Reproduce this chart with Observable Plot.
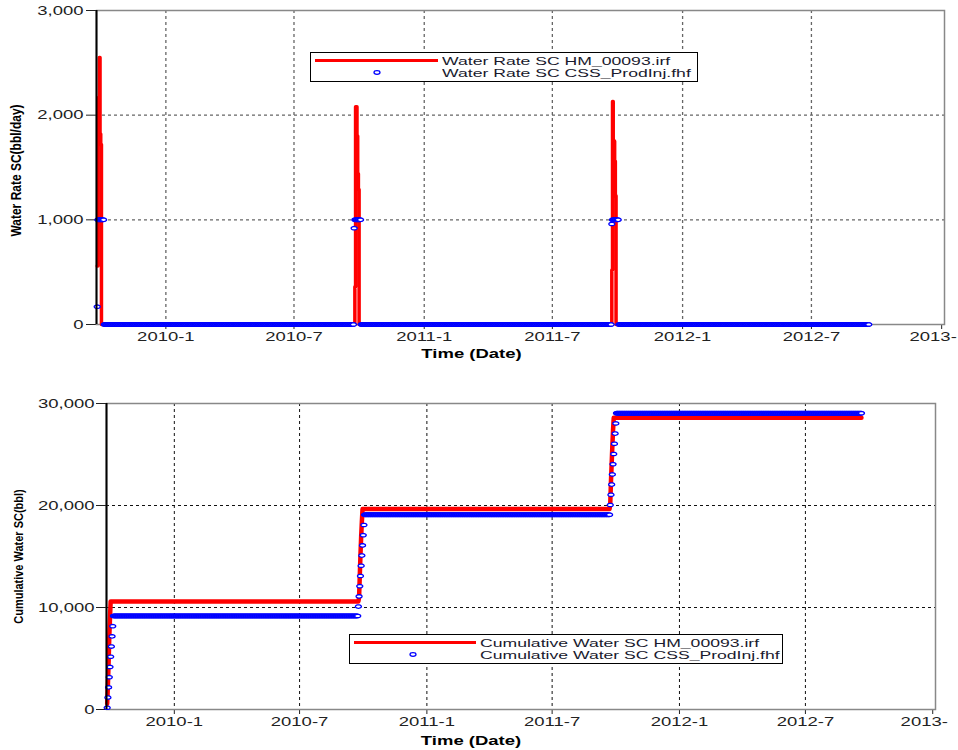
<!DOCTYPE html>
<html>
<head>
<meta charset="utf-8">
<script src="https://cdn.jsdelivr.net/npm/d3@7"></script>
<script src="https://cdn.jsdelivr.net/npm/@observablehq/plot@0.6"></script>
<style>
  html, body { margin: 0; padding: 0; background: white; }
  #wrap { position: relative; width: 958px; height: 750px; overflow: hidden; background: white; }
  .legend { position: absolute; border: 1px solid #000; background: white; box-sizing: border-box; }
  .legend svg { position: absolute; left: 0; top: 0; }
  .legend .lt { position: absolute; font-family: "Liberation Sans", Arial, sans-serif; font-size: 11px; color: #1a1a2e;
                white-space: nowrap; transform-origin: 0 50%; transform: scaleX(1.6); line-height: 12px; height: 12px; }
</style>
</head>
<body>
<div id="wrap">
  <div id="chartTop"></div>
  <div id="chartBot"></div>
</div>
<script>
// ---------- data ----------
const xDomain = ["2009-09-25", "2013-01-05"];
const xTickDays = ["2010-01-01", "2010-07-01", "2011-01-01", "2011-07-01", "2012-01-01", "2012-07-01", "2013-01-01"];
const xTickLabels = ["2010-1", "2010-7", "2011-1", "2011-7", "2012-1", "2012-7", "2013-"];
const rateTicks = [0, 1000, 2000, 3000];
const cumTicks = [0, 10000, 20000, 30000];

const seriesStart = "2009-09-26";
const seriesEnd = "2012-09-20";

// HM_00093.irf water rate (bbl/day), daily values during each cycle
const hmCycleStart = ["2009-09-26", "2010-09-25", "2011-09-23"];
const hmCycleRates = [
  [560, 1780, 2170, 2550, 1820, 1720],
  [360, 2080, 2080, 1800, 1440, 1290],
  [520, 2130, 1760, 1750, 1560, 1230]
];

// CSS_ProdInj.fhf water rate (bbl/day), daily values during each cycle
const cssCycleStart = ["2009-09-26", "2010-09-24", "2011-09-23"];
const cssCycleRates = [
  [170, 1000, 1000, 1000, 1000, 1000, 1000, 1000, 1000, 1000],
  [920, 1000, 1000, 1000, 1000, 1000, 1000, 1000, 1000, 1000],
  [960, 1000, 1000, 1000, 1000, 1000, 1000, 1000, 1000, 1000]
];

const legendTop = ["Water Rate SC HM_00093.irf", "Water Rate SC CSS_ProdInj.fhf"];
const legendBot = ["Cumulative Water SC HM_00093.irf", "Cumulative Water SC CSS_ProdInj.fhf"];

// ---------- build tables ----------
const parse = d3.utcParse("%Y-%m-%d");
const xDom = xDomain.map(parse);
const xTickDates = xTickDays.map(parse);
const xFmt = d => { const i = xTickDates.findIndex(t => +t === +d); return i >= 0 ? xTickLabels[i] : ""; };

function daily(starts, rates) {
  const days = d3.utcDay.range(parse(seriesStart), d3.utcDay.offset(parse(seriesEnd), 1));
  const m = new Map();
  starts.forEach((s, i) => rates[i].forEach((v, j) => m.set(+d3.utcDay.offset(parse(s), j), v)));
  let c = 0;
  return days.map(d => { const r = m.get(+d) ?? 0; c += r; return { date: d, rate: r, cum: c }; });
}
const hmData = daily(hmCycleStart, hmCycleRates);
const cssData = daily(cssCycleStart, cssCycleRates);

const ellipseSymbol = {
  draw(ctx, size) {
    const r = Math.sqrt(size / Math.PI), rx = r * 1.5, ry = r * 0.85;
    for (let i = 0; i <= 20; i++) {
      const a = i / 20 * 2 * Math.PI, px = rx * Math.cos(a), py = ry * Math.sin(a);
      i ? ctx.lineTo(px, py) : ctx.moveTo(px, py);
    }
    ctx.closePath();
  }
};

const baseStyle = { fontFamily: "'Liberation Sans', Arial, sans-serif", fontSize: "12.5px", color: "#222", background: "white", overflow: "hidden" };

function stretchText(svg) {
  svg.querySelectorAll("text").forEach(t => {
    const x = parseFloat(t.getAttribute("x")) || 0;
    const y = parseFloat(t.getAttribute("y")) || 0;
    const T = t.getAttribute("transform") || "";
    const rotated = /rotate/.test(T);
    const sc = rotated ? "scale(1,1.2)" : (t.getAttribute("font-weight") === "bold" ? "scale(1.45,1)" : "scale(1.48,1)");
    // the clipped last date label sits where the full label would have started
    const shift = t.textContent === xTickLabels[xTickLabels.length - 1] ? "translate(-8.5,0) " : "";
    t.setAttribute("transform", `${T} ${shift}translate(${x},${y}) ${sc} translate(${-x},${-y})`);
  });
}

// ---------- top chart ----------
const plotTop = Plot.plot({
  width: 958, height: 375,
  marginLeft: 96, marginRight: 14, marginTop: 10, marginBottom: 51,
  style: baseStyle,
  x: { type: "utc", domain: xDom, ticks: xTickDates, tickFormat: xFmt, tickSize: 5, tickPadding: 3, label: null },
  y: { domain: [rateTicks[0], rateTicks[rateTicks.length - 1]], ticks: rateTicks, tickFormat: d3.format(","), tickSize: 10, tickPadding: 3, label: null },
  marks: [
    Plot.ruleY(rateTicks.slice(1, -1), { stroke: "#666", strokeWidth: 1.3, strokeDasharray: "3,3" }),
    Plot.ruleX(xTickDates.slice(0, -1), { stroke: "#666", strokeWidth: 1.3, strokeDasharray: "3,3" }),
    Plot.frame({ stroke: "#888", strokeWidth: 1.5 }),
    Plot.line(hmData, { x: "date", y: "rate", stroke: "#ff0000", strokeWidth: 3.5, curve: "step-after" }),
    Plot.dot(cssData, { x: "date", y: "rate", r: 2, symbol: ellipseSymbol, stroke: "#0000ff", fill: "white", strokeWidth: 1.3 }),
    Plot.ruleX([xDom[0]], { stroke: "black", strokeWidth: 2 }),
    Plot.text(["Time (Date)"], { text: d => d, frameAnchor: "bottom", lineAnchor: "middle", textAnchor: "middle", dy: 29, dx: -49, fontWeight: "bold", fontSize: 12.5, fill: "black" }),
    Plot.text(["Water Rate SC(bbl/day)"], { text: d => d, frameAnchor: "left", textAnchor: "middle", lineAnchor: "middle", dx: -80, dy: 3, rotate: -90, fontWeight: "bold", fontSize: 12, fill: "black" })
  ]
});
stretchText(plotTop);
document.getElementById("chartTop").appendChild(plotTop);

// ---------- bottom chart ----------
const plotBot = Plot.plot({
  width: 958, height: 375,
  marginLeft: 106, marginRight: 23, marginTop: 28, marginBottom: 41,
  style: baseStyle,
  x: { type: "utc", domain: xDom, ticks: xTickDates, tickFormat: xFmt, tickSize: 5, tickPadding: 3, label: null },
  y: { domain: [cumTicks[0], cumTicks[cumTicks.length - 1]], ticks: cumTicks, tickFormat: d3.format(","), tickSize: 10, tickPadding: 2, label: null },
  marks: [
    Plot.ruleY(cumTicks.slice(1, -1), { stroke: "#111", strokeWidth: 1, strokeDasharray: "3,3" }),
    Plot.ruleX(xTickDates.slice(0, -1), { stroke: "#111", strokeWidth: 1, strokeDasharray: "3,3" }),
    Plot.frame({ stroke: "#888", strokeWidth: 1.5 }),
    Plot.line(hmData, { x: "date", y: "cum", stroke: "#ff0000", strokeWidth: 4.5 }),
    Plot.dot(cssData, { x: "date", y: "cum", r: 2, symbol: ellipseSymbol, stroke: "#0000ff", fill: "white", strokeWidth: 1.3 }),
    Plot.ruleX([xDom[0]], { stroke: "black", strokeWidth: 2 }),
    Plot.text(["Time (Date)"], { text: d => d, frameAnchor: "bottom", lineAnchor: "middle", textAnchor: "middle", dy: 31, dx: -50, fontWeight: "bold", fontSize: 12.5, fill: "black" }),
    Plot.text(["Cumulative Water SC(bbl)"], { text: d => d, frameAnchor: "left", textAnchor: "middle", lineAnchor: "middle", dx: -88, rotate: -90, fontWeight: "bold", fontSize: 11, fill: "black" })
  ]
});
stretchText(plotBot);
document.getElementById("chartBot").appendChild(plotBot);

// ---------- legends ----------
function legend(box, labels, lineEnd, dotX, textX) {
  const d = document.createElement("div");
  d.className = "legend";
  Object.assign(d.style, { left: box[0] + "px", top: box[1] + "px", width: box[2] + "px", height: box[3] + "px" });
  d.innerHTML = `<svg width="${box[2]}" height="${box[3]}">
      <line x1="4" x2="${lineEnd}" y1="7.5" y2="7.5" stroke="#ff0000" stroke-width="3"/>
      <ellipse cx="${dotX}" cy="19.5" rx="3" ry="1.8" fill="white" stroke="#0000ff" stroke-width="1.3"/>
    </svg>
    <div class="lt" style="left:${textX}px;top:1.5px">${labels[0]}</div>
    <div class="lt" style="left:${textX}px;top:13.5px">${labels[1]}</div>`;
  document.getElementById("wrap").appendChild(d);
}
legend([310, 52, 388, 30], legendTop, 127, 66, 131);
legend([349, 634, 434, 30], legendBot, 126, 63, 130);
</script>
</body>
</html>
